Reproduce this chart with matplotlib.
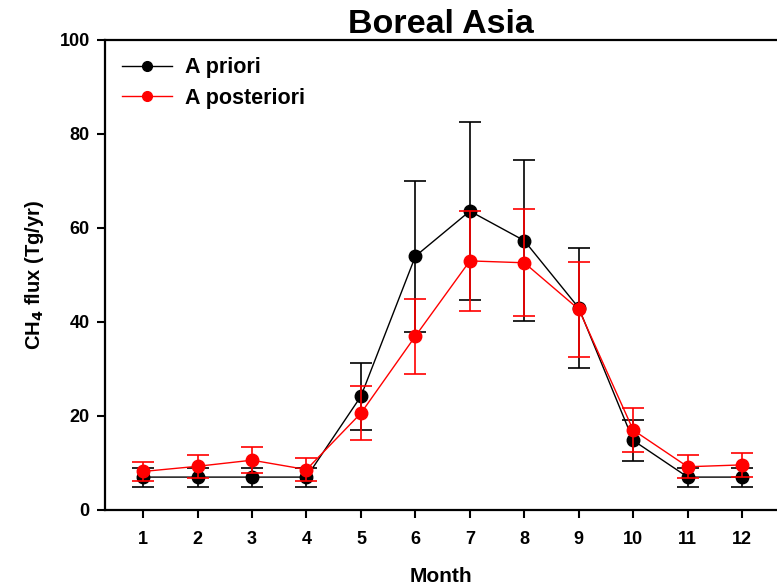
import matplotlib
matplotlib.use("Agg")
import matplotlib.pyplot as plt
from matplotlib.lines import Line2D
import numpy as np

matplotlib.rcParams['font.family'] = ['Liberation Sans', 'DejaVu Sans']
matplotlib.rcParams['font.weight'] = 'bold'

months = np.arange(1, 13)

prior_flux = [7.0, 7.0, 7.0, 7.0, 24.2, 54.0, 63.6, 57.3, 43.0, 14.8, 7.0, 7.0]
prior_err = [2.0, 2.0, 2.0, 2.0, 7.1, 16.1, 19.0, 17.1, 12.8, 4.3, 2.0, 2.0]

post_flux = [8.2, 9.3, 10.6, 8.6, 20.6, 37.0, 53.0, 52.6, 42.7, 17.0, 9.2, 9.6]
post_err = [2.1, 2.4, 2.8, 2.4, 5.8, 8.0, 10.7, 11.4, 10.1, 4.7, 2.4, 2.5]

fig = plt.figure(figsize=(7.77, 5.87), dpi=100)
ax = fig.add_axes([105 / 777, 77 / 587, 672 / 777, 470 / 587])

ax.errorbar(months, prior_flux, yerr=prior_err, color='black', marker='o',
            markersize=9, linewidth=1.0, elinewidth=1.2, capsize=8,
            capthick=1.2, zorder=2)
ax.errorbar(months, post_flux, yerr=post_err, color='#ff0000', marker='o',
            markersize=9, linewidth=1.0, elinewidth=1.2, capsize=8,
            capthick=1.2, zorder=3)

ax.set_xlim(0.3, 12.64)
ax.set_ylim(0, 100)
ax.set_xticks(months)
ax.set_yticks(np.arange(0, 101, 20))
ax.tick_params(direction='out', length=6, width=1.5, labelsize=13)
ax.tick_params(axis='x', pad=9)
ax.tick_params(axis='y', pad=5)
for lbl in ax.get_xticklabels() + ax.get_yticklabels():
    lbl.set_fontweight('bold')

for side in ['left', 'bottom', 'top']:
    ax.spines[side].set_linewidth(1.6)
ax.spines['right'].set_visible(False)

fig.text(441 / 777, 1 - 33 / 587, 'Boreal Asia', fontsize=24.5,
         fontweight='bold', ha='center', va='baseline')
ax.set_xlabel('Month', fontsize=15, fontweight='bold', labelpad=14)
ax.set_ylabel('CH$_\\mathbf{4}$ flux (Tg/yr)', fontsize=14.5, fontweight='bold', labelpad=10)

# legend shows plain line+marker, without the error bars
handles = [
    Line2D([], [], color='black', marker='o', markersize=7, linewidth=1.0),
    Line2D([], [], color='#ff0000', marker='o', markersize=7, linewidth=1.0),
]
leg = ax.legend(handles, ['A priori', 'A posteriori'], loc='upper left',
                frameon=False, fontsize=15.5, handlelength=2.3,
                handletextpad=0.6, borderaxespad=0.5, labelspacing=0.45,
                borderpad=0.3)
for t in leg.get_texts():
    t.set_fontweight('bold')

fig.savefig('out.png', dpi=100)
